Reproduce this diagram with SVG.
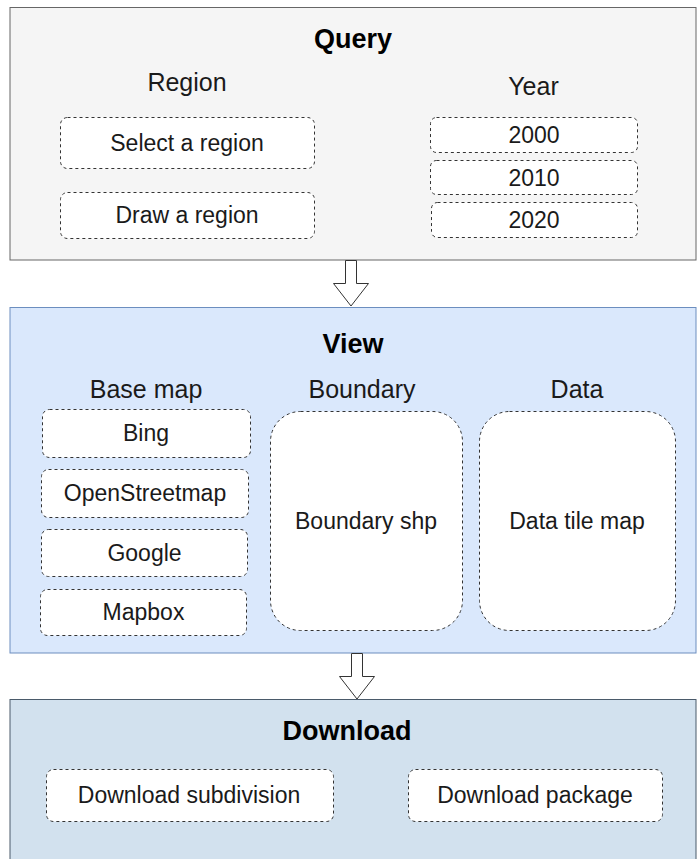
<svg xmlns="http://www.w3.org/2000/svg" width="697" height="859" viewBox="0 0 697 859">
<style>
text{font-family:"Liberation Sans",Arial,sans-serif;fill:#1a1a1a;text-anchor:middle}
.title{font-size:27px;font-weight:bold;fill:#000}
.lbl{font-size:25px}
.t{font-size:23px}
.box{fill:#fff;stroke:#333;stroke-width:1;stroke-dasharray:3 3}
.arrow{fill:#fff;stroke:#333;stroke-width:1;stroke-linejoin:miter}
</style>
<rect width="697" height="859" fill="#fff"/>
<g id="query">
<rect x="10" y="7.5" width="686" height="252.5" fill="#f5f5f5" stroke="#666"/>
<text class="title" x="353" y="48">Query</text>
<text class="lbl" x="187" y="91">Region</text>
<text class="lbl" x="533.5" y="95">Year</text>
</g>
<g id="select-region"><rect class="box" x="60.5" y="117.5" width="254" height="51" rx="7"/><text class="t" x="187" y="151">Select a region</text></g>
<g id="draw-region"><rect class="box" x="60.5" y="192.5" width="254" height="46" rx="7"/><text class="t" x="187" y="223">Draw a region</text></g>
<g id="y2000"><rect class="box" x="430.5" y="117.5" width="207" height="35" rx="6"/><text class="t" x="534" y="143">2000</text></g>
<g id="y2010"><rect class="box" x="430.5" y="160.5" width="207" height="34" rx="6"/><text class="t" x="534" y="185.5">2010</text></g>
<g id="y2020"><rect class="box" x="431.5" y="202.5" width="206" height="35" rx="6"/><text class="t" x="534" y="228">2020</text></g>
<g id="view">
<rect x="10" y="307.5" width="686" height="345.5" fill="#dae8fc" stroke="#6c8ebf"/>
<text class="title" x="353" y="353">View</text>
<text class="lbl" x="146" y="398">Base map</text>
<text class="lbl" x="362" y="398">Boundary</text>
<text class="lbl" x="577" y="398">Data</text>
</g>
<g id="bing"><rect class="box" x="42.5" y="409.5" width="208" height="48" rx="7"/><text class="t" x="146" y="441">Bing</text></g>
<g id="osm"><rect class="box" x="41.5" y="469.5" width="207" height="48" rx="7"/><text class="t" x="145" y="501">OpenStreetmap</text></g>
<g id="google"><rect class="box" x="41.5" y="529.5" width="206" height="47" rx="7"/><text class="t" x="144.5" y="560.5">Google</text></g>
<g id="mapbox"><rect class="box" x="40.5" y="589.5" width="206" height="46" rx="7"/><text class="t" x="143.5" y="620">Mapbox</text></g>
<g id="boundary-shp"><rect class="box" x="270.5" y="411.5" width="192" height="219" rx="30"/><text class="t" x="366" y="528.5">Boundary shp</text></g>
<g id="data-tile"><rect class="box" x="479.5" y="411.5" width="196" height="219" rx="30"/><text class="t" x="577" y="528.5">Data tile map</text></g>
<g id="download">
<rect x="10" y="699.5" width="686" height="170" fill="#d2e1ee" stroke="#4a5a6a"/>
<text class="title" x="347" y="740">Download</text>
</g>
<g id="download-subdivision"><rect class="box" x="46.5" y="769.5" width="287" height="52" rx="7"/><text class="t" x="189" y="803">Download subdivision</text></g>
<g id="download-package"><rect class="box" x="408.5" y="769.5" width="254" height="52" rx="7"/><text class="t" x="535" y="803">Download package</text></g>
<g id="connectors">
<path class="arrow" d="M345.5 260.5 V283.5 H333.5 L351 306 L368.5 283.5 H356.5 V260.5 Z"/>
<path class="arrow" d="M351.5 653.5 V676.5 H339.5 L357 699 L374.5 676.5 H362.5 V653.5 Z"/>
</g>
</svg>
